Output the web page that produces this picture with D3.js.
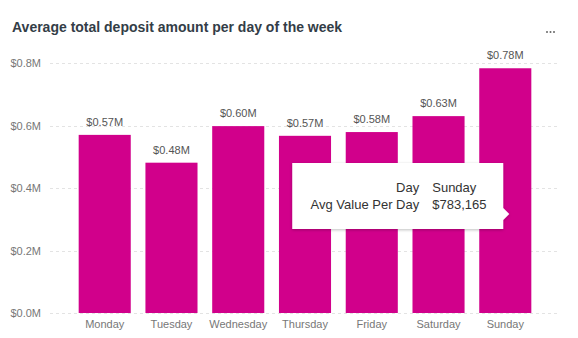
<!DOCTYPE html>
<html>
<head>
<meta charset="utf-8">
<script src="https://cdn.jsdelivr.net/npm/d3@7"></script>
<style>
  body { margin: 0; background: #fff; font-family: "Liberation Sans", Arial, sans-serif; }
  svg { display: block; }
</style>
</head>
<body>
<svg id="chart" width="578" height="338"></svg>
<script>
const days = ["Monday", "Tuesday", "Wednesday", "Thursday", "Friday", "Saturday", "Sunday"];
const values = [570000, 481000, 598000, 567000, 579000, 630000, 783165];
const yTicks = [0, 200000, 400000, 600000, 800000];
const hoverDay = "Sunday";

const size = { width: 578, height: 338, top: 63, bottom: 313, left: 50, right: 558 };
const svg = d3.select("#chart");

const x = d3.scaleBand()
    .domain(days)
    .range([72, 538])
    .paddingInner(0.22)
    .paddingOuter(0.1);

const y = d3.scaleLinear()
    .domain([0, 800000])
    .range([size.bottom, size.top]);

const fmtM = d => "$" + (d / 1e6).toFixed(2) + "M";

// title
svg.append("text")
    .attr("x", 12)
    .attr("y", 32)
    .attr("font-size", 14)
    .attr("font-weight", "bold")
    .attr("fill", "#333d47")
    .text("Average total deposit amount per day of the week");

// more-options dots
svg.append("g").selectAll("circle")
    .data([0, 1, 2])
    .join("circle")
    .attr("cx", d => 547 + d * 3.5)
    .attr("cy", 32)
    .attr("r", 1)
    .attr("fill", "#666");

// gridlines
svg.append("g").selectAll("line")
    .data(yTicks)
    .join("line")
    .attr("x1", size.left)
    .attr("x2", size.right)
    .attr("y1", d => Math.round(y(d)) + 0.5)
    .attr("y2", d => Math.round(y(d)) + 0.5)
    .attr("stroke", "#e3e3e3")
    .attr("stroke-dasharray", "3,3");

// y axis labels
const yAxis = svg.append("g")
    .attr("transform", "translate(41,0)")
    .call(d3.axisLeft(y).tickValues(yTicks).tickSize(0).tickPadding(0)
        .tickFormat(d => "$" + (d / 1e6).toFixed(1) + "M"));
yAxis.select(".domain").remove();
yAxis.selectAll("text")
    .attr("font-size", 11)
    .attr("font-family", "Liberation Sans, Arial, sans-serif")
    .attr("fill", "#777");

// bars
svg.append("g").selectAll("rect")
    .data(days)
    .join("rect")
    .attr("x", d => x(d))
    .attr("y", (d, i) => y(values[i]))
    .attr("width", x.bandwidth())
    .attr("height", (d, i) => y(0) - y(values[i]))
    .attr("fill", "#d1008b");

// value labels
svg.append("g").selectAll("text")
    .data(days)
    .join("text")
    .attr("x", d => x(d) + x.bandwidth() / 2)
    .attr("y", (d, i) => y(values[i]) - 9)
    .attr("text-anchor", "middle")
    .attr("font-size", 11)
    .attr("fill", "#555")
    .text((d, i) => fmtM(values[i]));

// x axis labels
const xAxis = svg.append("g")
    .attr("transform", `translate(0,${size.bottom})`)
    .call(d3.axisBottom(x).tickSize(0).tickPadding(7));
xAxis.select(".domain").remove();
xAxis.selectAll("text")
    .attr("font-size", 11)
    .attr("font-family", "Liberation Sans, Arial, sans-serif")
    .attr("fill", "#777");

// tooltip
const hi = days.indexOf(hoverDay);
const tipRight = x(hoverDay) + 24;
const tipX = tipRight - 211, tipY = 163, tipW = 211, tipH = 66;
const defs = svg.append("defs");
const filter = defs.append("filter").attr("id", "shadow")
    .attr("x", "-10%").attr("y", "-20%").attr("width", "120%").attr("height", "140%");
filter.append("feDropShadow")
    .attr("dx", 0).attr("dy", 1).attr("stdDeviation", 1.5)
    .attr("flood-color", "#000").attr("flood-opacity", 0.25);

const tip = svg.append("g").attr("filter", "url(#shadow)");
tip.append("path")
    .attr("d", `M${tipX},${tipY}H${tipX + tipW}V${tipY + 45}l6,6l-6,6V${tipY + tipH}H${tipX}Z`)
    .attr("fill", "#fff");

const rows = [["Day", hoverDay], ["Avg Value Per Day", "$" + d3.format(",")(values[hi])]];
const tipText = svg.append("g");
rows.forEach((r, i) => {
    tipText.append("text")
        .attr("x", tipX + 127)
        .attr("y", 192 + i * 17)
        .attr("text-anchor", "end")
        .attr("font-size", 13)
        .attr("fill", "#333")
        .text(r[0]);
    tipText.append("text")
        .attr("x", tipX + 140)
        .attr("y", 192 + i * 17)
        .attr("font-size", 13)
        .attr("fill", "#333")
        .text(r[1]);
});
</script>
</body>
</html>
